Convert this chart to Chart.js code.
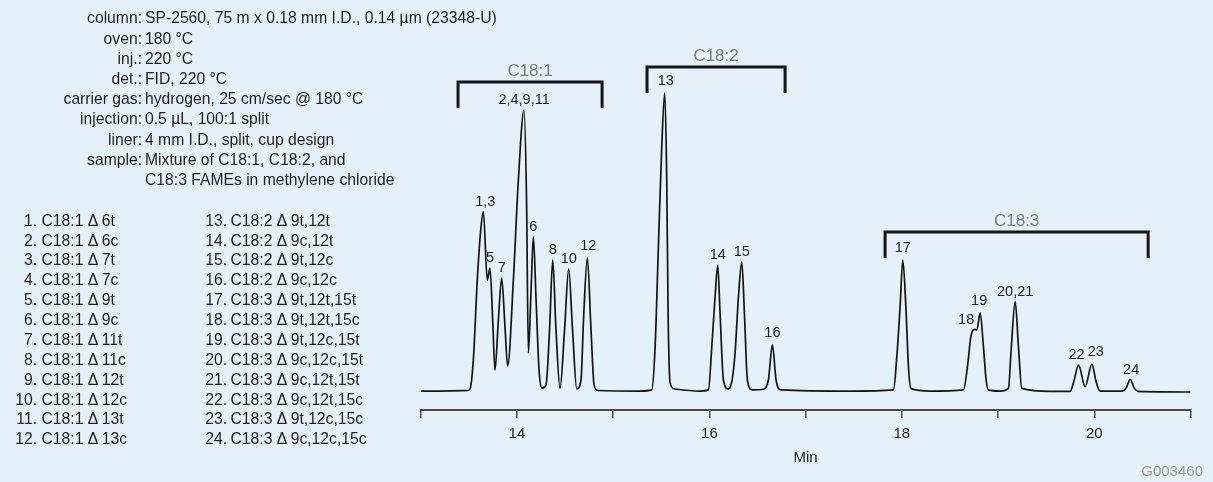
<!DOCTYPE html>
<html>
<head>
<meta charset="utf-8">
<script src="https://cdn.jsdelivr.net/npm/chart.js@4/dist/chart.umd.min.js"></script>
<style>
  html, body { margin: 0; padding: 0; background: #e5f0f8; }
  #wrap { position: relative; width: 1213px; height: 482px; overflow: hidden;
          font-family: "Liberation Sans", Arial, sans-serif; color: #1e1e1e; }
  #chart { position: absolute; left: 0; top: 0; }
  .line { position: absolute; left: 0; height: 20px; line-height: 20px; font-size: 15.7px; white-space: nowrap; }
  #code { position: absolute; right: 10px; top: 462px; font-size: 15px; color: #9a9a9a; }
</style>
</head>
<body>
<div id="wrap">
  <canvas id="chart" width="1213" height="482"></canvas>
  <div id="code">G003460</div>
</div>
<script>
// conditions (left block)
const infoLabels = ['column:', 'oven:', 'inj.:', 'det.:', 'carrier gas:', 'injection:', 'liner:', 'sample:', ''];
const infoValues = [
  'SP-2560, 75 m x 0.18 mm I.D., 0.14 µm (23348-U)',
  '180 °C',
  '220 °C',
  'FID, 220 °C',
  'hydrogen, 25 cm/sec @ 180 °C',
  '0.5 µL, 100:1 split',
  '4 mm I.D., split, cup design',
  'Mixture of C18:1, C18:2, and',
  'C18:3 FAMEs in methylene chloride'
];

// peak identification
const compounds = [
  'C18:1 Δ 6t', 'C18:1 Δ 6c', 'C18:1 Δ 7t', 'C18:1 Δ 7c', 'C18:1 Δ 9t', 'C18:1 Δ 9c',
  'C18:1 Δ 11t', 'C18:1 Δ 11c', 'C18:1 Δ 12t', 'C18:1 Δ 12c', 'C18:1 Δ 13t', 'C18:1 Δ 13c',
  'C18:2 Δ 9t,12t', 'C18:2 Δ 9c,12t', 'C18:2 Δ 9t,12c', 'C18:2 Δ 9c,12c',
  'C18:3 Δ 9t,12t,15t', 'C18:3 Δ 9t,12t,15c', 'C18:3 Δ 9t,12c,15t', 'C18:3 Δ 9c,12c,15t',
  'C18:3 Δ 9c,12t,15t', 'C18:3 Δ 9c,12t,15c', 'C18:3 Δ 9t,12c,15c', 'C18:3 Δ 9c,12c,15c'
];

// detector trace (min, relative response)
const times = [
  13.00, 13.49, 13.512, 13.547, 13.588, 13.624, 13.651, 13.692, 13.720, 13.748,
  13.772, 13.807, 13.842, 13.876, 13.904, 13.963, 14.015, 14.074, 14.100, 14.119,
  14.147, 14.171, 14.199, 14.230, 14.261, 14.302, 14.339, 14.372, 14.406, 14.448,
  14.495, 14.538, 14.578, 14.622, 14.666, 14.692, 14.732, 14.770, 14.802, 14.843,
  15.280, 15.401, 15.436, 15.470, 15.505, 15.536, 15.557, 15.571, 15.592, 15.644,
  15.903, 15.990, 16.025, 16.059, 16.087, 16.111, 16.146, 16.198, 16.236, 16.267,
  16.302, 16.337, 16.364, 16.395, 16.444, 16.569, 16.613, 16.655, 16.693, 16.745,
  17.463, 17.913, 17.948, 17.982, 18.010, 18.042, 18.069, 18.094, 18.294, 18.640,
  18.682, 18.717, 18.752, 18.780, 18.814, 18.848, 18.876, 18.900, 19.022, 19.108,
  19.136, 19.178, 19.212, 19.247, 19.542, 19.750, 19.791, 19.836, 19.905, 19.975,
  20.020, 20.061, 20.290, 20.332, 20.373, 20.415, 20.456, 21.00
];
const signal = [
  0.3, 0.5, 1, 10.7, 37.3, 54, 60.1, 37.3, 41.3, 24,
  7.3, 24, 38, 21.7, 8.7, 37.3, 70.7, 94, 64, 13,
  34, 51.7, 30.7, 7.3, 1.3, 2.3, 20.7, 44, 20.7, 1.3,
  20.7, 41, 20.7, 1, 4, 24, 44.7, 20.7, 2.3, 0.5,
  0.3, 0.7, 15, 48.3, 81.7, 99.6, 70.7, 26.3, 3, 1,
  0.3, 0.7, 15, 31.7, 42.3, 26.3, 4, 1, 4, 13,
  31.7, 43.4, 26.3, 4, 0.7, 1, 4, 15.7, 4, 0.7,
  0.3, 0.7, 11.8, 28.4, 44, 28.4, 8.4, 1.2, 0.3, 0.7,
  8.4, 18.4, 20.9, 20.7, 26.4, 15.1, 4, 0.7, 0.3, 1.2,
  14, 30.1, 15.1, 1.2, 0.2, 0.2, 4, 9, 1.8, 9.3,
  3.3, 0.3, 0.3, 1.3, 4.2, 1.3, 0.2, 0
];

// peak labels and apex times
const peakLabels = ['1,3', '5', '7', '2,4,9,11', '6', '8', '10', '12', '13', '14', '15', '16',
                    '17', '18', '19', '20,21', '22', '23', '24'];
const peakTimes = [13.651, 13.720, 13.842, 14.074, 14.171, 14.372, 14.538, 14.732, 15.536, 16.087,
                   16.337, 16.655, 18.010, 18.752, 18.814, 19.178, 19.836, 19.975, 20.373];

// bracketed groups
const groupNames = ['C18:1', 'C18:2', 'C18:3'];
const groupStart = [13.388, 15.352, 17.826];
const groupEnd = [14.885, 16.787, 20.560];

// x axis
const xMin = 13, xMax = 21;
const xTickLabels = [14, 16, 18, 20];

// ---- layout / style (pixels) ----
const bracketTopPx = [82, 67, 232];
const bracketLegPx = 26;
const labelNudge = { '1,3': [2, 0], '12': [1, -2], '13': [1, -2], '16': [0, -2], '17': [0, -2],
                     '18': [-8, 1], '19': [-1, -2], '22': [-2, 0], '23': [4, -2], '24': [1, 1] };

// left text blocks
const wrap = document.getElementById('wrap');
function addRow(top, leftText, leftRight, rightText, rightLeft) {
  const row = document.createElement('div');
  row.className = 'line';
  row.style.top = top + 'px';
  const a = document.createElement('span');
  a.style.cssText = 'position:absolute;left:0;text-align:right;width:' + leftRight + 'px;';
  a.textContent = leftText;
  const b = document.createElement('span');
  b.style.cssText = 'position:absolute;left:' + rightLeft + 'px;';
  b.textContent = rightText;
  row.appendChild(a);
  row.appendChild(b);
  wrap.appendChild(row);
}
infoLabels.forEach((k, i) => addRow(8.3 + i * 20.2, k, 142, infoValues[i], 145));
compounds.forEach((name, i) => {
  const col = i < 12 ? 0 : 1;
  addRow(210.7 + (i % 12) * 19.87, (i + 1) + '.', col ? 227 : 37, name, col ? 230.5 : 41.5);
});

Chart.defaults.font.family = '"Liberation Sans", Arial, sans-serif';

const overlay = {
  id: 'overlay',
  afterDatasetsDraw(chart) {
    const { ctx, scales: { x, y } } = chart;
    ctx.save();
    // group brackets
    ctx.strokeStyle = '#151515';
    ctx.lineWidth = 3;
    ctx.lineCap = 'butt';
    ctx.lineJoin = 'miter';
    groupNames.forEach((name, i) => {
      const x0 = x.getPixelForValue(groupStart[i]);
      const x1 = x.getPixelForValue(groupEnd[i]);
      const yt = bracketTopPx[i];
      ctx.beginPath();
      ctx.moveTo(x0, yt + bracketLegPx);
      ctx.lineTo(x0, yt);
      ctx.lineTo(x1, yt);
      ctx.lineTo(x1, yt + bracketLegPx);
      ctx.stroke();
      ctx.fillStyle = '#7d7d7d';
      ctx.font = '17px "Liberation Sans", Arial, sans-serif';
      ctx.textAlign = 'center';
      ctx.textBaseline = 'middle';
      ctx.fillText(name, (x0 + x1) / 2, yt - 11);
    });
    // peak labels
    ctx.fillStyle = '#1e1e1e';
    ctx.font = '14.5px "Liberation Sans", Arial, sans-serif';
    ctx.textAlign = 'center';
    ctx.textBaseline = 'middle';
    peakLabels.forEach((lab, i) => {
      let best = 0;
      times.forEach((t, j) => { if (Math.abs(t - peakTimes[i]) < Math.abs(times[best] - peakTimes[i])) best = j; });
      const nudge = labelNudge[lab] || [0, 0];
      const px = x.getPixelForValue(times[best]) + nudge[0];
      const py = y.getPixelForValue(signal[best]) - 10 + nudge[1];
      ctx.fillText(lab, px, py);
    });
    ctx.restore();
  }
};

new Chart(document.getElementById('chart'), {
  type: 'line',
  data: {
    datasets: [{
      data: times.map((t, i) => ({ x: t, y: signal[i] })),
      borderColor: '#141414',
      borderWidth: 1.7,
      pointRadius: 0,
      fill: false,
      cubicInterpolationMode: 'monotone',
    }],
  },
  options: {
    responsive: false,
    animation: false,
    devicePixelRatio: 1,
    layout: { padding: { left: 420.7, right: 22.5, top: 40, bottom: 0 } },
    scales: {
      x: {
        type: 'linear',
        min: xMin,
        max: xMax,
        afterFit(scale) { scale.height = 72; },
        border: { display: true, color: '#4a4a4a', width: 2 },
        grid: { drawOnChartArea: false, drawTicks: true, tickLength: 8, color: '#4a4a4a', lineWidth: 1.5 },
        ticks: {
          stepSize: 1,
          autoSkip: false,
          maxRotation: 0,
          padding: 7,
          color: '#1e1e1e',
          font: { size: 15 },
          callback: (v) => (xTickLabels.includes(v) ? String(v) : ''),
        },
        title: {
          display: true,
          text: 'Min',
          color: '#1e1e1e',
          font: { size: 15 },
          padding: { top: 0, bottom: 15 },
        },
      },
      y: {
        display: false,
        min: -6,
        max: 117.33,
      },
    },
    plugins: {
      legend: { display: false },
      tooltip: { enabled: false },
    },
  },
  plugins: [overlay],
});
</script>
</body>
</html>
